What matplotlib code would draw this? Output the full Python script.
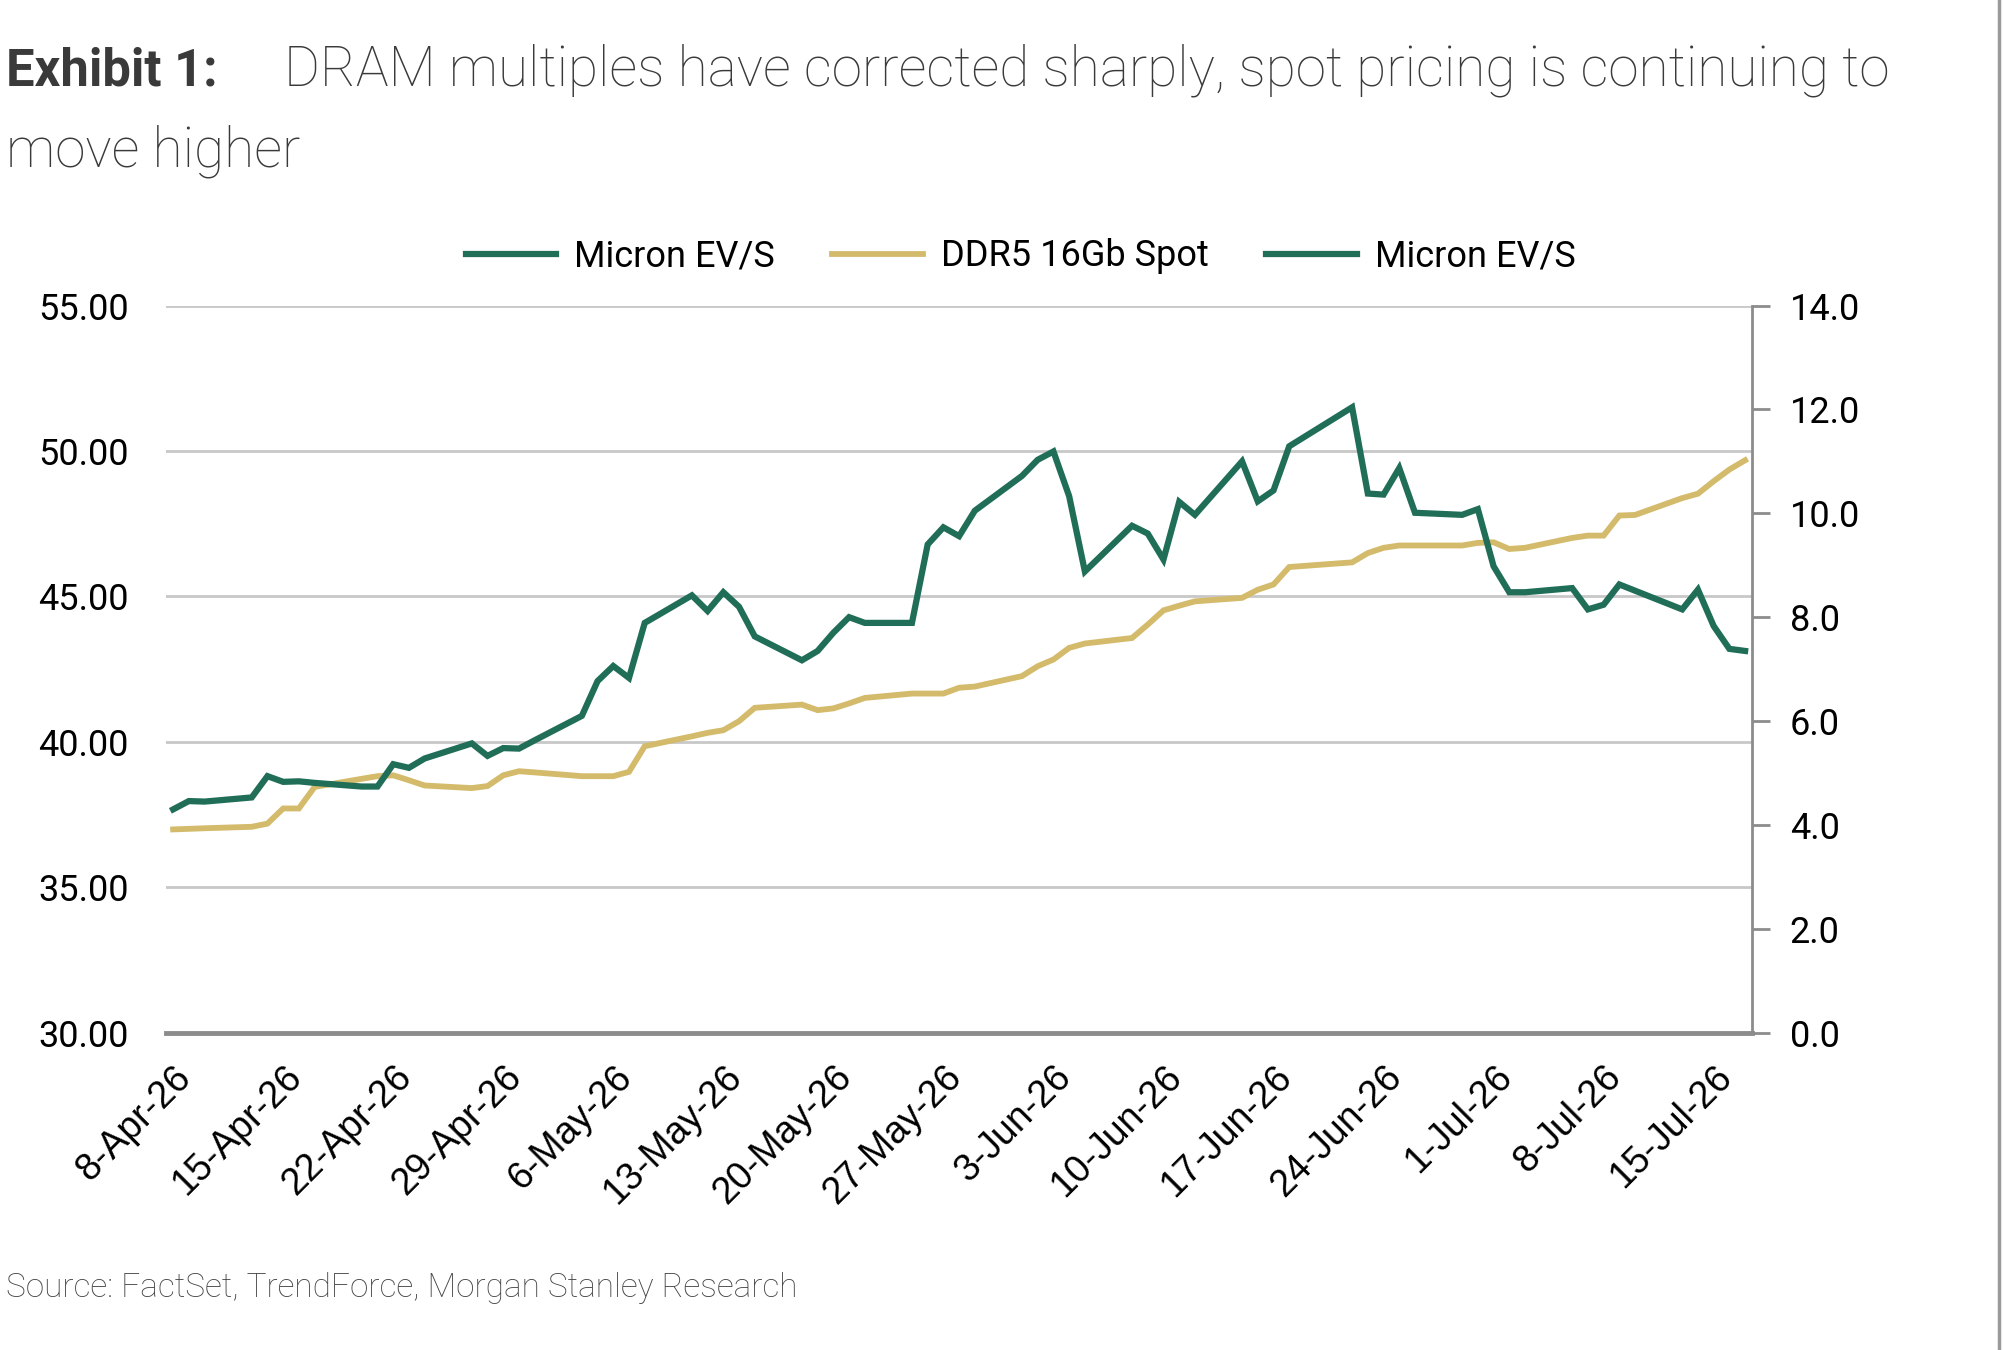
import pandas as pd
import matplotlib.pyplot as plt
import matplotlib.dates as mdates
from matplotlib.lines import Line2D
from matplotlib.ticker import FuncFormatter

# trading days shown on the chart
dates = ["2026-04-08", "2026-04-09", "2026-04-10", "2026-04-13", "2026-04-14",
         "2026-04-15", "2026-04-16", "2026-04-17", "2026-04-20", "2026-04-21",
         "2026-04-22", "2026-04-23", "2026-04-24", "2026-04-27", "2026-04-28",
         "2026-04-29", "2026-04-30", "2026-05-01", "2026-05-04", "2026-05-05",
         "2026-05-06", "2026-05-07", "2026-05-08", "2026-05-11", "2026-05-12",
         "2026-05-13", "2026-05-14", "2026-05-15", "2026-05-18", "2026-05-19",
         "2026-05-20", "2026-05-21", "2026-05-22", "2026-05-25", "2026-05-26",
         "2026-05-27", "2026-05-28", "2026-05-29", "2026-06-01", "2026-06-02",
         "2026-06-03", "2026-06-04", "2026-06-05", "2026-06-08", "2026-06-09",
         "2026-06-10", "2026-06-11", "2026-06-12", "2026-06-15", "2026-06-16",
         "2026-06-17", "2026-06-18", "2026-06-22", "2026-06-23", "2026-06-24",
         "2026-06-25", "2026-06-26", "2026-06-29", "2026-06-30", "2026-07-01",
         "2026-07-02", "2026-07-03", "2026-07-06", "2026-07-07", "2026-07-08",
         "2026-07-09", "2026-07-10", "2026-07-13", "2026-07-14", "2026-07-15",
         "2026-07-16", "2026-07-17"]

# Micron EV/S (right axis)
micron_ev_s = [4.30, 4.46, 4.45, 4.53, 4.94, 4.83, 4.84, 4.81, 4.74, 4.74,
               5.17, 5.10, 5.28, 5.57, 5.33, 5.48, 5.47, 5.63, 6.10, 6.77,
               7.06, 6.83, 7.89, 8.42, 8.12, 8.48, 8.20, 7.63, 7.17, 7.35,
               7.70, 8.00, 7.89, 7.89, 9.40, 9.73, 9.56, 10.05, 10.72, 11.03,
               11.19, 10.33, 8.88, 9.76, 9.61, 9.11, 10.22, 9.97, 11.00, 10.23,
               10.44, 11.29, 12.04, 10.38, 10.36, 10.87, 10.01, 9.97, 10.08, 8.98,
               8.48, 8.48, 8.56, 8.15, 8.24, 8.63, 8.51, 8.15, 8.53, 7.83,
               7.39, 7.35]

# DDR5 16Gb spot (left axis)
ddr5_spot = [36.99, 37.01, 37.03, 37.08, 37.19, 37.71, 37.71, 38.45, 38.73, 38.82,
             38.85, 38.68, 38.50, 38.41, 38.48, 38.85, 38.99, 38.95, 38.82, 38.82,
             38.82, 38.97, 39.85, 40.19, 40.31, 40.40, 40.71, 41.17, 41.28, 41.09,
             41.15, 41.32, 41.51, 41.66, 41.66, 41.66, 41.86, 41.90, 42.26, 42.60,
             42.83, 43.23, 43.38, 43.57, 44.03, 44.52, 44.68, 44.83, 44.95, 45.23,
             45.41, 46.01, 46.17, 46.49, 46.67, 46.75, 46.75, 46.75, 46.84, 46.86,
             46.63, 46.67, 47.01, 47.09, 47.09, 47.78, 47.80, 48.38, 48.53, 48.96,
             49.36, 49.68]

left_ticks = [30, 35, 40, 45, 50, 55]
right_ticks = [0, 2, 4, 6, 8, 10, 12, 14]
tick_dates = pd.date_range("2026-04-08", "2026-07-15", freq="7D")

green = "#216E58"
gold = "#D4BB6C"
axis_grey = "#8C8C8C"
label_font = ["Roboto", "DejaVu Sans"]

x = pd.to_datetime(dates)

fig = plt.figure(figsize=(20.04, 13.5), dpi=100)
ax = fig.add_axes([0.0828, 0.235, 0.7916, 0.5387])
ax2 = ax.twinx()

spot_line, = ax.plot(x, ddr5_spot, color=gold, lw=4.2, solid_joinstyle="miter")
ev_line, = ax2.plot(x, micron_ev_s, color=green, lw=4.5, solid_joinstyle="miter")

start = pd.Timestamp("2026-04-08")
ax.set_xlim(start - pd.Timedelta(hours=11), start + pd.Timedelta(days=100, hours=11))
ax.set_ylim(30, 55)
ax2.set_ylim(0, 14)
ax.set_yticks(left_ticks)
ax2.set_yticks(right_ticks)
ax.yaxis.set_major_formatter(FuncFormatter(lambda v, p: f"{v:.2f}"))
ax2.yaxis.set_major_formatter(FuncFormatter(lambda v, p: f"{v:.1f}"))

ax.set_xticks(tick_dates)
ax.xaxis.set_major_formatter(FuncFormatter(
    lambda v, p: f"{mdates.num2date(v).day}-{mdates.num2date(v):%b-%y}"))
for lab in ax.get_xticklabels():
    lab.set_rotation(45)
    lab.set_ha("right")
    lab.set_va("top")
    lab.set_rotation_mode("anchor")
    lab.set_fontfamily(["Liberation Sans", "DejaVu Sans"])
    lab.set_fontsize(27)
ax.tick_params(axis="x", length=0, pad=19)

ax.tick_params(axis="y", length=0, pad=27, labelsize=26)
for lab in ax.get_yticklabels():
    lab.set_fontfamily(label_font)
ax2.tick_params(axis="y", length=13, width=2, color=axis_grey, pad=14, labelsize=26)
for lab in ax2.get_yticklabels():
    lab.set_fontfamily(label_font)

ax.yaxis.grid(True, color="#C8C8C8", lw=2)
ax.set_axisbelow(True)
for s in ["top", "left", "right"]:
    ax.spines[s].set_visible(False)
    ax2.spines[s].set_visible(s == "right")
ax2.spines["bottom"].set_visible(False)
ax.spines["bottom"].set_color(axis_grey)
ax.spines["bottom"].set_linewidth(3.5)
ax2.spines["right"].set_color(axis_grey)
ax2.spines["right"].set_linewidth(2)
ax.set_zorder(1)
ax2.set_zorder(2)

fig.legend([ev_line, spot_line, ev_line],
           ["Micron EV/S", "DDR5 16Gb Spot", "Micron EV/S"],
           loc="center", bbox_to_anchor=(0.5092, 0.81), ncol=3, frameon=False,
           prop={"family": label_font, "size": 26}, handlelength=2.5,
           handletextpad=0.5, columnspacing=1.6)

fig.text(0.003, 0.9363, "Exhibit 1:", fontsize=36.5, fontweight="bold",
         family="Roboto", color="#3A3A3A", va="baseline")
fig.text(0.1417, 0.9363, "DRAM multiples have corrected sharply, spot pricing is continuing to",
         fontsize=39.5, fontweight="light", family="Roboto", color="#3A3A3A", va="baseline")
fig.text(0.003, 0.8763, "move higher", fontsize=39.5, fontweight="light",
         family="Roboto", color="#3A3A3A", va="baseline")
fig.text(0.003, 0.039, "Source: FactSet, TrendForce, Morgan Stanley Research",
         fontsize=24, fontweight="light", family="Roboto", color="#444444", va="baseline")

fig.add_artist(Line2D([0.9975, 0.9975], [0, 1], transform=fig.transFigure,
                      color="#9A9A9A", lw=2.5))

fig.savefig("out.png", dpi=100)
